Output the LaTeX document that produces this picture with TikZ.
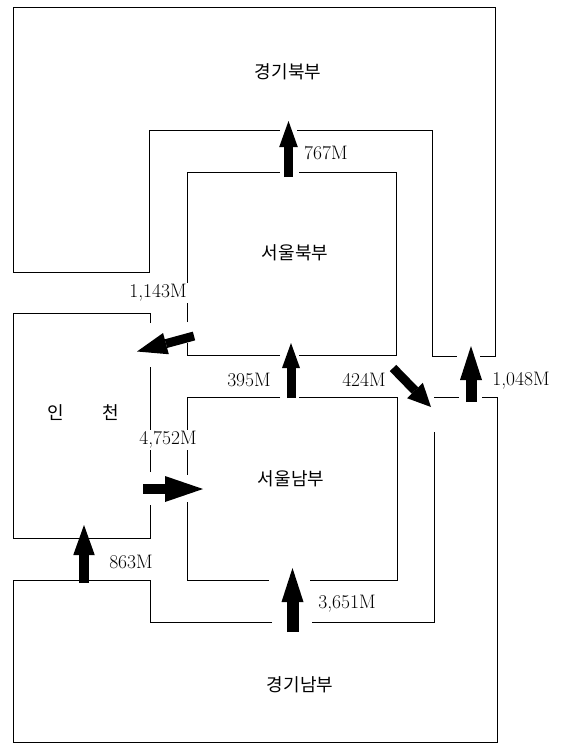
\documentclass[tikz,border=0pt]{standalone}
\usepackage{fontspec}
\newfontfamily\kr{Noto Sans CJK KR}
\usetikzlibrary{arrows.meta}
\tikzset{
  border/.style={line width=0.8pt, line join=miter, line cap=butt},
  num/.style={font=\fontsize{19.5}{20}\selectfont, inner sep=1pt},
  numw/.style={num, fill=white},
  region/.style={font=\kr\fontsize{18}{20}\selectfont, inner sep=0pt},
  flowarr/.style n args={3}{draw=black, line width=#1, -{Triangle[length=#2, width=#3, line width=0pt]}},
}
\begin{document}
\begin{tikzpicture}[x=1pt, y=-1pt]
\fill[white] (0,0) rectangle (561,748);
\useasboundingbox (0,0) rectangle (561,748);

% 경기북부 outline
\draw[border] (297,130) -- (432,130) -- (432,356) -- (457,356);
\draw[border] (480,356) -- (495,356) -- (495,7) -- (13,7) -- (13,272) -- (149,272) -- (149,130) -- (280,130);

% 서울북부
\draw[border] (299,172) -- (396,172) -- (396,355) -- (299,355);
\draw[border] (280,355) -- (187,355) -- (187,343);
\draw[border] (187,322) -- (187,172) -- (280,172);

% 인천
\draw[border] (150,323) -- (150,313) -- (13,313) -- (13,538) -- (150,538) -- (150,505);
\draw[border] (150,472) -- (150,367);

% 서울남부
\draw[border] (280,397) -- (187,397) -- (187,475);
\draw[border] (187,502) -- (187,580) -- (269,580);
\draw[border] (310,580) -- (397,580) -- (397,397) -- (299,397);

% 경기남부
\draw[border] (434,432) -- (434,622) -- (312,622);
\draw[border] (272,622) -- (150,622) -- (150,580) -- (13,580) -- (13,742) -- (497,742) -- (497,397) -- (482,397);
\draw[border] (459,397) -- (434,397);

% region labels
\node[region] (gnorth) at (288,72) {경기북부};
\node[region] (snorth) at (295,253) {서울북부};
\node[region] (incheon) at (83.5,413) {인\hspace{39pt}천};
\node[region] (ssouth) at (291,479) {서울남부};
\node[region] (gsouth) at (300,685) {경기남부};

% flow arrows: tails and tips
\coordinate (t767) at (288.5,177);  \coordinate (h767) at (288.5,121);
\coordinate (t395) at (291,398);    \coordinate (h395) at (291,343);
\coordinate (t1048) at (471,402);   \coordinate (h1048) at (471,346);
\coordinate (t3651) at (292.5,632); \coordinate (h3651) at (292.5,568);
\coordinate (t863) at (84,583);     \coordinate (h863) at (84,525);
\coordinate (t4752) at (143,489);   \coordinate (h4752) at (203,489);
\coordinate (t1143) at (194,336);   \coordinate (h1143) at (137,351.5);
\coordinate (t424) at (393,368);    \coordinate (h424) at (431,407);

\draw[flowarr={9pt}{26pt}{18.6pt}] (t767) -- (h767);
\draw[flowarr={9pt}{25pt}{18pt}] (t395) -- (h395);
\draw[flowarr={11pt}{34pt}{22pt}] (t1048) -- (h1048);
\draw[flowarr={12pt}{34pt}{22pt}] (t3651) -- (h3651);
\draw[flowarr={10pt}{30pt}{21.5pt}] (t863) -- (h863);
\draw[flowarr={10pt}{38pt}{26pt}] (t4752) -- (h4752);
\draw[flowarr={9pt}{30pt}{22pt}] (t1143) -- (h1143);
\draw[flowarr={9pt}{23pt}{22pt}] (t424) -- (h424);

% flow labels
\node[num, anchor=west] (l767) at (303,153) {767M};
\node[numw] (l1143) at (158,293) {1,143M};
\node[num] (l395) at (249,380) {395M};
\node[num] (l424) at (364,380) {424M};
\node[num] (l1048) at (521,381) {1,048M};
\node[numw] (l4752) at (168,440) {4,752M};
\node[num] (l863) at (131,562) {863M};
\node[num] (l3651) at (347,604) {3,651M};
\end{tikzpicture}
\end{document}
